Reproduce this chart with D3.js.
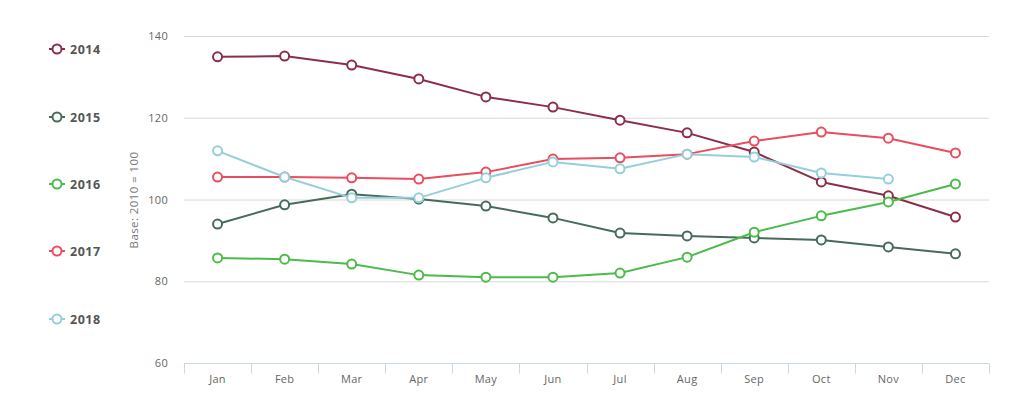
<!DOCTYPE html>
<html><head><meta charset="utf-8">
<script src="https://cdn.jsdelivr.net/npm/d3@7"></script>
<style>body{margin:0;background:#fff;font-family:"Open Sans",Lato,sans-serif;}</style>
</head><body><svg id="c" width="1024" height="415"></svg>
<script>
const months = ["Jan","Feb","Mar","Apr","May","Jun","Jul","Aug","Sep","Oct","Nov","Dec"];
const seriesNames = ["2014","2015","2016","2017","2018"];
const colors = ["#8b2e4a","#466b5b","#4cbb4c","#e94d5e","#95cfdb"];
const v2014 = [134.9,135.1,132.9,129.5,125.1,122.6,119.4,116.3,111.6,104.3,100.9,95.7];
const v2015 = [94.0,98.7,101.3,100.1,98.4,95.5,91.8,91.1,90.6,90.1,88.4,86.7];
const v2016 = [85.7,85.4,84.2,81.5,81.0,81.0,82.0,85.9,92.0,96.0,99.4,103.8];
const v2017 = [105.5,105.5,105.3,105.0,106.7,109.9,110.2,111.1,114.3,116.5,115.0,111.4];
const v2018 = [111.9,105.5,100.4,100.4,105.3,109.2,107.5,111.1,110.4,106.5,105.0,null];
const yTicks = [60,80,100,120,140];
const allValues = [v2014,v2015,v2016,v2017,v2018];

const svg = d3.select("#c");
const x = d3.scaleBand().domain(months).range([184,989]);
const y = d3.scaleLinear().domain([60,140]).range([363,36]);

svg.append("g").selectAll("line").data(yTicks.filter(d=>d>60)).join("line")
  .attr("x1",184).attr("x2",989).attr("y1",d=>y(d)+0.5).attr("y2",d=>y(d)+0.5)
  .attr("stroke","#d8d8d8").attr("stroke-width",1);

svg.append("g").selectAll("text").data(yTicks).join("text")
  .attr("x",168).attr("y",d=>y(d)+4).attr("text-anchor","end")
  .attr("font-size",11).attr("letter-spacing",0.3).attr("fill","#666").text(d=>d);

svg.append("text").attr("transform","translate(138,200) rotate(-90)")
  .attr("text-anchor","middle").attr("font-size",11.5).attr("letter-spacing",0.4)
  .attr("fill","#777").text("Base: 2010 = 100");

const xa = svg.append("g").attr("transform","translate(0,363.5)");
xa.append("line").attr("x1",184).attr("x2",989).attr("stroke","#ccd6eb");
const bounds = months.map(m=>x(m)).concat([x.range()[1]]);
xa.selectAll("line.t").data(bounds).join("line").attr("class","t")
  .attr("x1",d=>Math.round(d)+0.5).attr("x2",d=>Math.round(d)+0.5).attr("y1",0).attr("y2",10)
  .attr("stroke","#ccd6eb");
xa.selectAll("text").data(months).join("text")
  .attr("x",d=>x(d)+x.bandwidth()/2).attr("y",19).attr("text-anchor","middle")
  .attr("font-size",11).attr("letter-spacing",0.3).attr("fill","#666").text(d=>d);

const line = d3.line().defined(d=>d.v!=null).x(d=>x(d.m)+x.bandwidth()/2).y(d=>y(d.v));
allValues.forEach((vals,i)=>{
  const data = months.map((m,j)=>({m, v: vals[j]}));
  const g = svg.append("g");
  g.append("path").datum(data).attr("d",line).attr("fill","none")
    .attr("stroke",colors[i]).attr("stroke-width",2).attr("stroke-linejoin","round");
  g.selectAll("circle").data(data.filter(d=>d.v!=null)).join("circle")
    .attr("cx",d=>x(d.m)+x.bandwidth()/2).attr("cy",d=>y(d.v)).attr("r",4.5)
    .attr("fill","#fff").attr("stroke",colors[i]).attr("stroke-width",2);
});

const legY = [49,117,184,251,319];
const lg = svg.append("g");
seriesNames.forEach((s,i)=>{
  const g = lg.append("g").attr("transform",`translate(0,${legY[i]})`);
  g.append("line").attr("x1",49).attr("x2",65).attr("stroke",colors[i]).attr("stroke-width",2);
  g.append("circle").attr("cx",57).attr("cy",0).attr("r",4.5).attr("fill","#fff")
    .attr("stroke",colors[i]).attr("stroke-width",2);
  g.append("text").attr("x",70).attr("y",4.5).attr("font-size",12.5).attr("font-weight","bold")
    .attr("letter-spacing",0.5).attr("fill","#555").text(s);
});
</script></body></html>
